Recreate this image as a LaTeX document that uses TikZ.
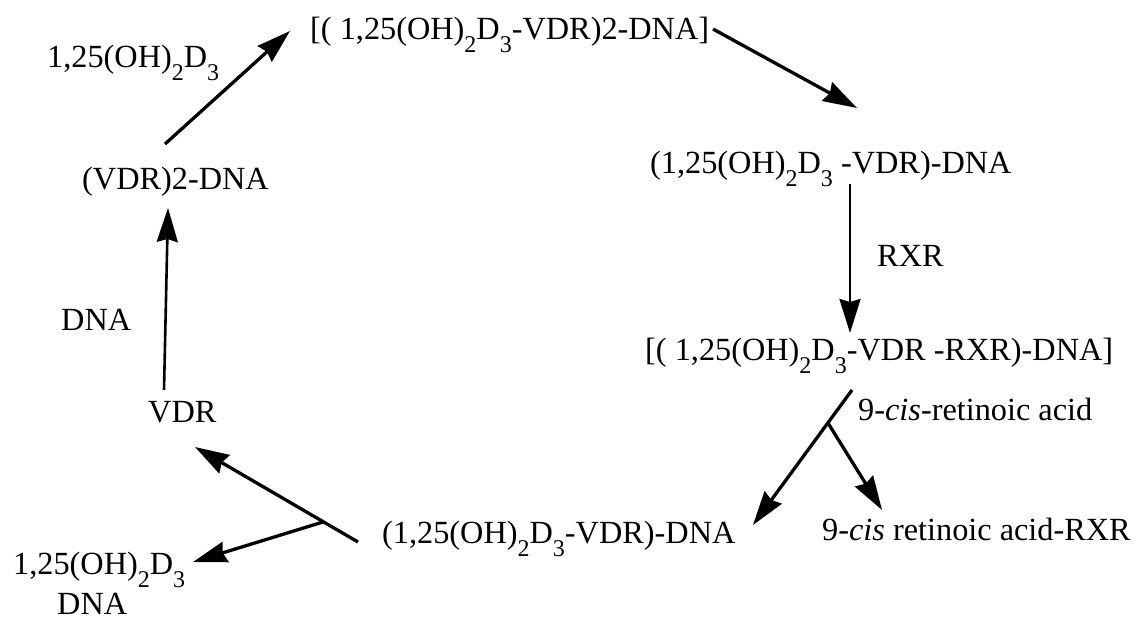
\documentclass[tikz,border=0pt]{standalone}
\usepackage{fontspec}
\setmainfont{Liberation Serif}
\usetikzlibrary{arrows.meta}
% lowered, slightly smaller digits used as chemical subscripts
\newcommand\sbs[1]{\raisebox{-13pt}{\fontsize{24}{24}\selectfont #1}}
\begin{document}
\begin{tikzpicture}[x=1pt,y=-1pt,
  lbl/.style={anchor=base west,inner sep=0pt,font=\fontsize{32.3}{38}\selectfont},
  rxn/.style={line width=3.3pt,-{Stealth[length=34pt,width=21pt,inset=3pt]}},
  vrxn/.style={rxn,line width=2.6pt}]
\useasboundingbox (0,0) rectangle (1147,620);

% species and reagents
\node[lbl] (addD)    at (47,68)   {1,25(OH)\sbs2D\sbs3};
\node[lbl] (dimer)   at (310,40)  {[( 1,25(OH)\sbs2D\sbs3-VDR)2-DNA]};
\node[lbl] (mono)    at (650,174) {(1,25(OH)\sbs2D\sbs3 -VDR)-DNA};
\node[lbl] (rxr)     at (877,266) {RXR};
\node[lbl] (hetero)  at (645,360) {[( 1,25(OH)\sbs2D\sbs3-VDR -RXR)-DNA]};
\node[lbl] (retacid) at (858,420) {9-\textit{cis}-retinoic acid};
\node[lbl] (retrxr)  at (822,540) {9-\textit{cis} retinoic acid-RXR};
\node[lbl] (monob)   at (382,543) {(1,25(OH)\sbs2D\sbs3-VDR)-DNA};
\node[lbl] (vdr)     at (148,422) {VDR};
\node[lbl] (addDNA)  at (61,330)  {DNA};
\node[lbl] (vdrdna)  at (82,190)  {(VDR)2-DNA};
\node[lbl] (relD)    at (13,574)  {1,25(OH)\sbs2D\sbs3};
\node[lbl] (relDNA)  at (57,614)  {DNA};

% arrow end points
\coordinate (a1s) at (165,144);  \coordinate (a1e) at (290,31);
\coordinate (a2s) at (713,29);   \coordinate (a2e) at (857,108);
\coordinate (a3s) at (850,184);  \coordinate (a3e) at (850,333);
\coordinate (f1s) at (852,390);  \coordinate (f1e) at (753,525);
\coordinate (f1b) at (828,423);  \coordinate (f1r) at (882,510);
\coordinate (f2s) at (358,542);  \coordinate (f2e) at (195,447);
\coordinate (f2b) at (323,522);  \coordinate (f2l) at (193,562);
\coordinate (a4s) at (164,390);  \coordinate (a4e) at (168,208);

% reaction cycle
\draw[rxn]  (a1s) -- (a1e);
\draw[rxn]  (a2s) -- (a2e);
\draw[vrxn] (a3s) -- (a3e);
\draw[rxn]  (f1s) -- (f1e);
\draw[rxn]  (f1b) -- (f1r);
\draw[rxn]  (f2s) -- (f2e);
\draw[rxn]  (f2b) -- (f2l);
\draw[vrxn] (a4s) -- (a4e);
\end{tikzpicture}
\end{document}
